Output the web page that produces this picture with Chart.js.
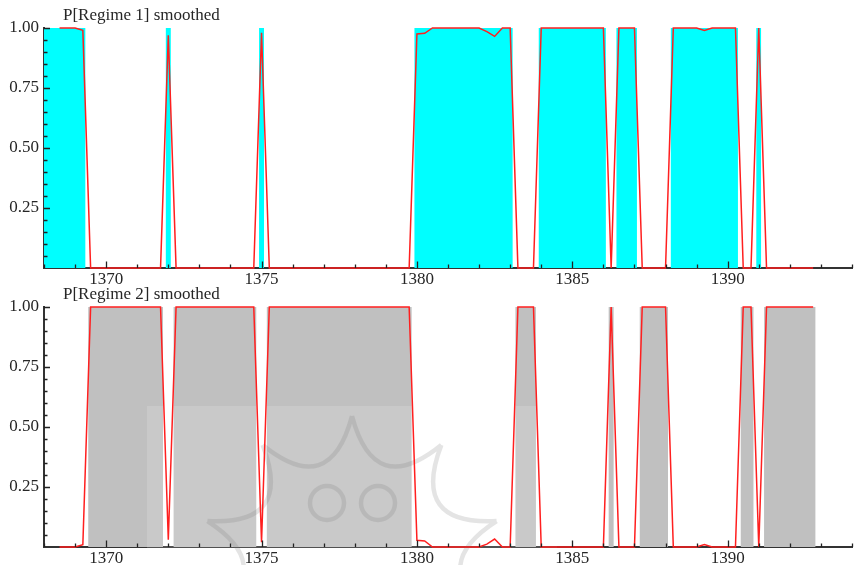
<!DOCTYPE html>
<html>
<head>
<meta charset="utf-8">
<script src="https://cdn.jsdelivr.net/npm/chart.js@4.4.1/dist/chart.umd.min.js"></script>
<style>
  html, body { margin: 0; padding: 0; background: #fff; }
  #wrap { position: relative; width: 854px; height: 565px; overflow: hidden; }
  canvas { position: absolute; left: 0; }
  #c1 { top: 0; }
  #c2 { top: 279px; }
</style>
</head>
<body>
<div id="wrap">
  <canvas id="c1" width="854" height="290"></canvas>
  <canvas id="c2" width="854" height="286"></canvas>
</div>
<script>
/* Quartalsdaten ab 1368 Q1 */
const START_YEAR = 1368;
const xTicks = [1370, 1375, 1380, 1385, 1390];
const yTicks = [0.25, 0.50, 0.75, 1.00];
const titles = ['P[Regime 1] smoothed', 'P[Regime 2] smoothed'];

/* Regime-Klassifikation je Quartal (1 oder 2), eine Zeile pro Jahr */
const regime = [
  1, 1, 1, 1,   // 1368
  1, 1, 2, 2,   // 1369
  2, 2, 2, 2,   // 1370
  2, 2, 2, 2,   // 1371
  1, 2, 2, 2,   // 1372
  2, 2, 2, 2,   // 1373
  2, 2, 2, 2,   // 1374
  1, 2, 2, 2,   // 1375
  2, 2, 2, 2,   // 1376
  2, 2, 2, 2,   // 1377
  2, 2, 2, 2,   // 1378
  2, 2, 2, 2,   // 1379
  1, 1, 1, 1,   // 1380
  1, 1, 1, 1,   // 1381
  1, 1, 1, 1,   // 1382
  1, 2, 2, 2,   // 1383
  1, 1, 1, 1,   // 1384
  1, 1, 1, 1,   // 1385
  1, 2, 1, 1,   // 1386
  1, 2, 2, 2,   // 1387
  2, 1, 1, 1,   // 1388
  1, 1, 1, 1,   // 1389
  1, 1, 2, 2,   // 1390
  1, 2, 2, 2,   // 1391
  2, 2, 2, 2,   // 1392
];

/* geglättete Wahrscheinlichkeiten (erste zwei Quartale fehlen) */
const p1Smoothed = [
  null, null, 1, 1,
  1, 0.99, 0, 0,
  0, 0, 0, 0,
  0, 0, 0, 0,
  0.97, 0, 0, 0,
  0, 0, 0, 0,
  0, 0, 0, 0,
  0.98, 0, 0, 0,
  0, 0, 0, 0,
  0, 0, 0, 0,
  0, 0, 0, 0,
  0, 0, 0, 0,
  0.975, 0.978, 1, 1,
  1, 1, 1, 1,
  1, 0.985, 0.965, 1,
  1, 0, 0, 0,
  1, 1, 1, 1,
  1, 1, 1, 1,
  1, 0, 1, 1,
  1, 0, 0, 0,
  0, 1, 1, 1,
  1, 0.99, 1, 1,
  1, 1, 0, 0,
  1, 0, 0, 0,
  0, 0, 0, 0,
];

const p2Smoothed = [
  null, null, 0, 0,
  0, 0.01, 1, 1,
  1, 1, 1, 1,
  1, 1, 1, 1,
  0.03, 1, 1, 1,
  1, 1, 1, 1,
  1, 1, 1, 1,
  0.02, 1, 1, 1,
  1, 1, 1, 1,
  1, 1, 1, 1,
  1, 1, 1, 1,
  1, 1, 1, 1,
  0.028, 0.025, 0, 0,
  0, 0, 0, 0,
  0, 0.012, 0.033, 0,
  0, 1, 1, 1,
  0, 0, 0, 0,
  0, 0, 0, 0,
  0, 1, 0, 0,
  0, 1, 1, 1,
  1, 0, 0, 0,
  0, 0.01, 0, 0,
  0, 0, 1, 1,
  0, 1, 1, 1,
  1, 1, 1, 1,
];

const quarters = regime.map((_, i) => START_YEAR + i / 4);

const FONT = { family: '"Liberation Serif", "Times New Roman", serif', size: 17 };
const TEXT = '#262626';
const HALF = 0.08;   /* halbe Balkenbreite in Jahren */

/* zusammenhängende Quartale eines Regimes als Rechteck-Polygon */
function blocks(which) {
  const pts = [];
  let i = 0;
  while (i < regime.length) {
    if (regime[i] !== which) { i++; continue; }
    let j = i;
    while (j + 1 < regime.length && regime[j + 1] === which) j++;
    const a = quarters[i] - HALF, b = quarters[j] + HALF;
    pts.push({ x: a, y: 0 }, { x: a, y: 1 }, { x: b, y: 1 }, { x: b, y: 0 });
    i = j + 1;
  }
  return pts;
}

/* Ticks nach innen, Jahre und 0.05-Schritte */
const innerTicks = {
  id: 'innerTicks',
  afterDatasetsDraw(chart) {
    const { ctx, chartArea: a, scales: { x, y } } = chart;
    ctx.save();
    ctx.strokeStyle = '#222';
    ctx.lineWidth = 1.3;
    ctx.beginPath();
    for (let yr = 1368; yr <= 1394; yr++) {
      const px = Math.round(x.getPixelForValue(yr)) + 0.5;
      const len = yr % 5 === 0 ? 6.5 : 3.5;
      ctx.moveTo(px, a.bottom);
      ctx.lineTo(px, a.bottom - len);
    }
    for (let k = 1; k <= 20; k++) {
      const py = Math.round(y.getPixelForValue(k / 20)) + 0.5;
      const len = k % 5 === 0 ? 6 : 3.5;
      ctx.moveTo(a.left, py);
      ctx.lineTo(a.left + len, py);
    }
    ctx.stroke();
    ctx.restore();
  }
};

const panelTitle = {
  id: 'panelTitle',
  afterDraw(chart, args, opts) {
    const { ctx, chartArea: a } = chart;
    ctx.save();
    ctx.font = `${FONT.size}px ${FONT.family}`;
    ctx.fillStyle = TEXT;
    ctx.textBaseline = 'alphabetic';
    ctx.fillText(opts.text, a.left + 19, a.top - 8);
    ctx.restore();
  }
};

/* blasses Wasserzeichen im unteren Panel */
const watermark = {
  id: 'watermark',
  afterDatasetDraw(chart, args, opts) {
    if (!opts.on || args.index !== 1) return;
    const ctx = chart.ctx;
    const oy = 279;
    ctx.save();
    ctx.fillStyle = 'rgba(255,255,255,0.15)';
    ctx.fillRect(147, 406 - oy, 410, 200);
    ctx.strokeStyle = 'rgba(120,120,120,0.2)';
    ctx.lineWidth = 4.5;
    const cx = 352, cy = 568 - oy, R = 152, r = 72;
    ctx.beginPath();
    for (let k = 0; k < 10; k++) {
      const t0 = (-90 + 36 * k) * Math.PI / 180;
      const t1 = (-90 + 36 * (k + 1)) * Math.PI / 180;
      const tm = (t0 + t1) / 2;
      ctx.moveTo(cx + R * Math.cos(t0), cy + R * Math.sin(t0));
      ctx.quadraticCurveTo(cx + r * Math.cos(tm), cy + r * Math.sin(tm),
                           cx + R * Math.cos(t1), cy + R * Math.sin(t1));
    }
    ctx.stroke();
    ctx.beginPath();
    ctx.arc(327, 503 - oy, 17, 0, Math.PI * 2);
    ctx.moveTo(395, 503 - oy);
    ctx.arc(378, 503 - oy, 17, 0, Math.PI * 2);
    ctx.stroke();
    ctx.restore();
  }
};

function makeChart(id, fillColor, which, probs, title, xHeight, mark) {
  return new Chart(document.getElementById(id), {
    type: 'line',
    data: {
      datasets: [
        { data: quarters.map((q, i) => ({ x: q, y: probs[i] })),
          borderColor: '#ff1f1f', borderWidth: 1.5, pointRadius: 0,
          tension: 0, fill: false, spanGaps: false, order: 0,
          clip: { left: 0, right: 0, top: 2, bottom: 2 } },
        { data: blocks(which), borderColor: 'rgba(0,0,0,0)', borderWidth: 0,
          backgroundColor: fillColor, fill: 'origin', pointRadius: 0,
          tension: 0, order: 1 },
      ],
    },
    options: {
      responsive: false, animation: false,
      layout: { padding: { top: 28, right: 2, left: 0, bottom: 0 } },
      plugins: {
        legend: { display: false },
        tooltip: { enabled: false },
        panelTitle: { text: title },
        watermark: { on: mark },
      },
      scales: {
        x: {
          type: 'linear', min: 1368, max: 1394,
          afterBuildTicks: s => { s.ticks = xTicks.map(v => ({ value: v })); },
          afterFit: s => { s.height = xHeight; },
          grid: { display: false, drawTicks: false },
          border: { display: true, color: '#333', width: 2 },
          ticks: { callback: v => String(v), font: FONT, color: TEXT, padding: 1, maxRotation: 0, z: 1 },
        },
        y: {
          min: 0, max: 1,
          afterBuildTicks: s => { s.ticks = yTicks.map(v => ({ value: v })); },
          afterFit: s => { s.width = 44; },
          grid: { display: false, drawTicks: false },
          border: { display: true, color: '#333', width: 2 },
          ticks: { callback: v => v.toFixed(2), font: FONT, color: TEXT, padding: 5, z: 1 },
        },
      },
    },
    plugins: [innerTicks, panelTitle, watermark],
  });
}

makeChart('c1', '#00ffff', 1, p1Smoothed, titles[0], 22, false);
makeChart('c2', '#c0c0c0', 2, p2Smoothed, titles[1], 18, true);
</script>
</body>
</html>
